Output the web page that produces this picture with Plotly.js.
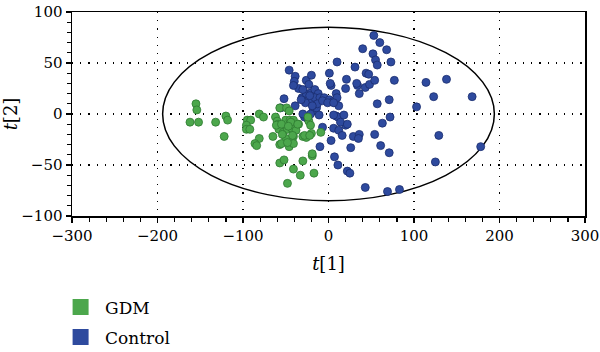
<!DOCTYPE html>
<html>
<head>
<meta charset="utf-8">
<script src="https://cdn.plot.ly/plotly-3.0.1.min.js"></script>
<style>html,body{margin:0;padding:0;background:#fff;}#chart{width:600px;height:352px;}</style>
</head>
<body>
<div id="chart"></div>
<script>
// ---- data ----
const gdmX = [-155,-154,-162,-152,-132,-120,-118,-122,-95,-91,-96,-96,-92,-81,-76,-81,-86,-84,
  -62,-60,-57,-49,-46,-50,-45,-41,-59,-58,-53,-48,-43,-65,-50,-41,-46,-41,-57,-57,-52,-41,-48,-33,
  -30,-19,-17,-30,-26,-35,-20,-9,-23,-21,-24,-54,-38,-61,-55,-44,-48,-42,-55,-28,-22,-19,-36,-47];
const gdmY = [10,4,-8,-8,-8,-2,-6,-22,-6,-6,-11,-15,-15,0,-3,-24,-29,-31,
  -3,-7,6,6,3,-6,-6,-6,-10,-15,-18,-15,-14,-22,-24,-22,-32,-29,-30,-48,-45,-54,-68,-60,
  -46,-41,-58,-22,-23,-10,-19,-18,-7,-11,-3,-20,-16,-11,-29,-8,-28,-21,-10,-21,-21,-39,-10,-12];
const controlX = [-46,-39,-40,-35,-26,-20,-23,-31,-26,-20,-16,-12,-21,-27,-32,-16,-10,-5,1,5,8,9,10,3,1,
  -52,-56,-39,-28,-18,-14,-11,-7,-10,3,6,9,11,18,12,16,20,7,11,22,25,26,29,36,35,43,69,83,54,61,71,63,72,
  57,71,36,34,20,21,31,10,40,44,47,43,48,54,77,52,53,60,68,55,57,73,103,114,123,138,129,125,168,178,
  -30,-22,-13,-19,-30,-21,-24,-7,-1,12,6,14,22,6,33,2,-41];
const controlY = [43,37,32,25,33,38,29,16,20,21,24,20,14,11,14,16,16,16,14,12,11,20,16,28,40,
  15,6,8,-3,3,6,-1,-13,-32,-26,-14,-2,-3,-1,-16,-21,-11,-42,-50,-56,-58,-33,-22,-20,-24,-72,-76,-74,-20,-31,-38,-9,-3,
  10,14,20,28,25,34,46,51,64,40,39,26,29,33,33,59,77,70,63,53,48,51,7,31,17,34,-21,-47,17,-32,
  24,18,10,8,0,0,-5,13,11,8,-1,-8,-10,11,30,30,28];
const seriesNames = ["GDM", "Control"];
const seriesColors = ["#4ca74c", "#2e4a9e"];
const seriesEdges = ["#2f7a31", "#1b2d6e"];
const ellipseA = 194;   // Hotelling T2 ellipse semi-axis along t[1]
const ellipseB = 85;    // semi-axis along t[2]
const xTicks = [-300,-200,-100,0,100,200,300];
const yTicks = [-100,-50,0,50,100];

const serif = "DejaVu Serif";

const traces = [
  {x: controlX, y: controlY, type: "scatter", mode: "markers", showlegend: false, name: seriesNames[1],
   marker: {size: 8, color: seriesColors[1], line: {color: seriesEdges[1], width: 0.8}}},
  {x: gdmX, y: gdmY, type: "scatter", mode: "markers", showlegend: false, name: seriesNames[0],
   marker: {size: 8, color: seriesColors[0], line: {color: seriesEdges[0], width: 0.8}}},
  {x: [null], y: [null], type: "scatter", mode: "markers", name: seriesNames[0], legendgroup: "a",
   marker: {symbol: "square", size: 18, color: seriesColors[0], line: {width: 0}}},
  {x: [null], y: [null], type: "scatter", mode: "markers", name: seriesNames[1], legendgroup: "b",
   marker: {symbol: "square", size: 18, color: seriesColors[1], line: {width: 0}}}
];

const axisCommon = {
  showline: true, linecolor: "#000", linewidth: 1.5, mirror: true,
  ticks: "outside", ticklen: 5, tickwidth: 1.2, tickcolor: "#000",
  showgrid: true, gridcolor: "#000", gridwidth: 1.2, griddash: "1.2px,7px",
  zeroline: false, ticklabeloverflow: "allow",
  tickfont: {family: serif, size: 15, color: "#000"}
};

const layout = {
  width: 600, height: 352,
  font: {family: serif, color: "#000"},
  margin: {l: 72, r: 15, t: 12, b: 136, autoexpand: false},
  paper_bgcolor: "#fff", plot_bgcolor: "#fff",
  showlegend: true,
  legend: {x: -0.031, y: -0.36, xanchor: "left", yanchor: "top", itemwidth: 39,
    traceorder: "grouped", tracegroupgap: 5,
    font: {family: serif, size: 17, color: "#000"}, bgcolor: "rgba(0,0,0,0)"},
  xaxis: Object.assign({}, axisCommon, {
    range: [-300, 300], tickvals: xTicks, autorange: false,
    minor: {dtick: 20, ticks: "outside", ticklen: 4, tickcolor: "#000", showgrid: false},
    title: {text: "<i>t</i>[1]", font: {family: serif, size: 18, color: "#000"}, standoff: 14}
  }),
  yaxis: Object.assign({}, axisCommon, {
    range: [-100, 100], tickvals: yTicks, autorange: false,
    minor: {dtick: 10, ticks: "outside", ticklen: 4, tickcolor: "#000", showgrid: false},
    title: {text: "<i>t</i>[2]", font: {family: serif, size: 18, color: "#000"}, standoff: 4}
  }),
  shapes: [{type: "circle", xref: "x", yref: "y", x0: -ellipseA, x1: ellipseA, y0: -ellipseB, y1: ellipseB,
    line: {color: "#000", width: 1.5}, layer: "below"}]
};

Plotly.newPlot("chart", traces, layout, {displayModeBar: false, staticPlot: true});
</script>
</body>
</html>
